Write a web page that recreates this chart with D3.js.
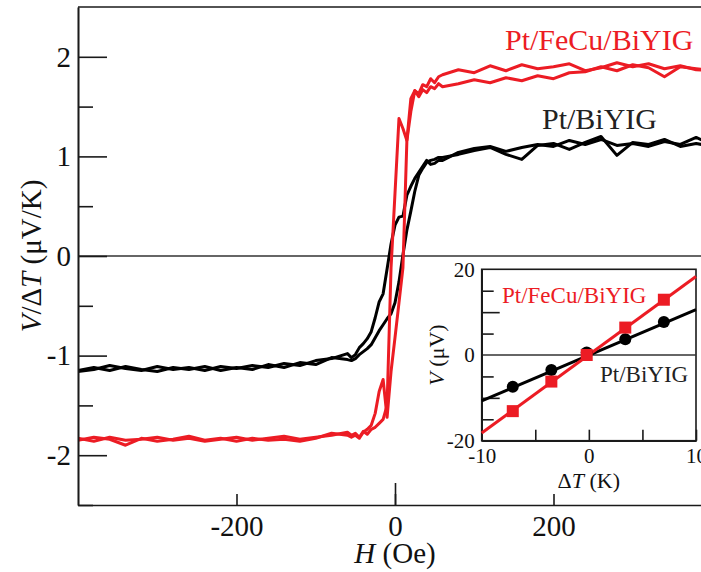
<!DOCTYPE html>
<html>
<head>
<meta charset="utf-8">
<script src="https://cdn.jsdelivr.net/npm/d3@7"></script>
<style>
  html, body { margin: 0; padding: 0; background: #fff; overflow: hidden; }
  svg { display: block; font-family: "Liberation Serif", "Times New Roman", serif; }
</style>
</head>
<body>
<svg id="chart" width="701" height="572"></svg>
<script>
// Hysteresis loops: field H (Oe) and V/ΔT (µV/K), sweep-down and sweep-up branches
const fieldOe = [
  -400, -380, -360, -340, -320, -300, -280, -260, -240, -220, -200, -180, -160, -140, -120, -100, -80, -60,
  -55, -50, -45, -40, -35, -30, -25, -20, -15, -10, -5, 0, 5, 10, 15, 20, 25, 30, 35, 40, 45, 50, 55,
  60, 80, 100, 120, 140, 160, 180, 200, 220, 240, 260, 280, 300, 320, 340, 360, 380, 400
];

const ptBiyigDown = [
  -1.16, -1.14, -1.10, -1.13, -1.15, -1.11, -1.14, -1.12, -1.15, -1.11, -1.13, -1.10, -1.12, -1.08, -1.10, -1.05, -1.03, -0.98,
  -1.02, -0.99, -0.92, -0.88, -0.83, -0.76, -0.62, -0.46, -0.38, -0.13, 0.12, 0.31, 0.39, 0.40, 0.61, 0.70, 0.78, 0.84, 0.90, 0.96, 0.92, 0.93, 0.96,
  0.96, 1.04, 1.08, 1.10, 1.05, 1.09, 1.12, 1.10, 1.16, 1.12, 1.17, 1.11, 1.13, 1.10, 1.15, 1.12, 1.19, 1.12
];

const ptBiyigUp = [
  -1.15, -1.12, -1.15, -1.11, -1.14, -1.16, -1.12, -1.14, -1.11, -1.15, -1.12, -1.14, -1.09, -1.12, -1.07, -1.09, -1.02, -1.04,
  -1.05, -1.03, -0.99, -0.96, -0.93, -0.89, -0.82, -0.75, -0.69, -0.63, -0.58, -0.47, -0.26, 0.01, 0.26, 0.45, 0.65, 0.81, 0.88, 0.94, 0.96, 0.97, 0.99,
  0.99, 1.02, 1.06, 1.09, 1.02, 0.97, 1.11, 1.13, 1.07, 1.14, 1.20, 1.01, 1.14, 1.12, 1.17, 1.10, 1.13, 1.10
];

const ptFecuDown = [
  -1.83, -1.86, -1.82, -1.85, -1.84, -1.82, -1.85, -1.83, -1.86, -1.84, -1.82, -1.85, -1.83, -1.81, -1.84, -1.82, -1.80, -1.77,
  -1.80, -1.78, -1.82, -1.76, -1.79, -1.74, -1.72, -1.68, -1.64, -1.50, -0.12, 0.63, 1.38, 1.28, 1.16, 1.58, 1.66, 1.63, 1.72, 1.70, 1.78, 1.74, 1.80,
  1.82, 1.87, 1.84, 1.91, 1.86, 1.92, 1.88, 1.90, 1.93, 1.86, 1.89, 1.94, 1.90, 1.93, 1.88, 1.91, 1.87, 1.86
];

const ptFecuUp = [
  -1.85, -1.82, -1.84, -1.90, -1.83, -1.86, -1.84, -1.81, -1.85, -1.83, -1.86, -1.83, -1.85, -1.84, -1.86, -1.83, -1.78, -1.80,
  -1.82, -1.80, -1.83, -1.77, -1.74, -1.70, -1.58, -1.36, -1.24, -1.62, -1.16, -0.82, -0.47, -0.12, 1.16, 1.45, 1.66, 1.60, 1.67, 1.64, 1.70, 1.68, 1.73,
  1.70, 1.73, 1.77, 1.74, 1.79, 1.76, 1.81, 1.78, 1.84, 1.85, 1.90, 1.86, 1.92, 1.89, 1.80, 1.90, 1.88, 1.86
];

// Inset: thermal voltage V (µV) against temperature difference ΔT (K)
const deltaT = [-7.1, -3.5, -0.2, 3.4, 7.0];
const vPtBiyig = [-7.4, -3.5, 0.6, 3.7, 7.7];
const vPtFecu = [-13.1, -6.2, 0.0, 6.4, 12.9];
const fitDeltaT = [-10, 10];
const fitPtBiyig = [-10.7, 10.6];
const fitPtFecu = [-18.2, 18.3];

// Tick values
const mainYMajor = [-2, -1, 0, 1, 2];
const mainYMinor = [-2.5, -1.5, -0.5, 0.5, 1.5];
const mainXMajor = [-200, 0, 200];
const insetYLabeled = [-20, 0, 20];
const insetYMajor = [-10, 10];
const insetYMinor = [-15, -5, 5, 15];
const insetXTicks = [-10, -5, 0, 5, 10];
const insetXLabeled = [-10, 0, 10];

const RED = "#ec1c24";
const INK = "#1a1a1a";

const svg = d3.select("#chart");

// ---------- main panel ----------
const x = d3.scaleLinear().domain([-400, 400]).range([78, 712]);
const y = d3.scaleLinear().domain([-2.5, 2.5]).range([505, 7]);

svg.append("defs").append("clipPath").attr("id", "plotClip")
  .append("rect").attr("x", 78).attr("y", 7).attr("width", 634).attr("height", 498);

// zero line
svg.append("line")
  .attr("x1", x(-400)).attr("x2", x(400))
  .attr("y1", y(0)).attr("y2", y(0))
  .attr("stroke", "#333").attr("stroke-width", 1.3);

const line = d3.line().x(d => x(d[0])).y(d => y(d[1]));
const curves = [
  { v: ptBiyigDown, c: "#000" },
  { v: ptBiyigUp, c: "#000" },
  { v: ptFecuDown, c: RED },
  { v: ptFecuUp, c: RED }
];
const curveG = svg.append("g").attr("clip-path", "url(#plotClip)");
curves.forEach(s => {
  curveG.append("path")
    .datum(fieldOe.map((h, i) => [h, s.v[i]]))
    .attr("d", line)
    .attr("fill", "none")
    .attr("stroke", s.c)
    .attr("stroke-width", 3)
    .attr("stroke-linejoin", "round");
});

function styleAxis(g, fontSize) {
  g.attr("font-family", null).attr("font-size", null);
  g.selectAll("path.domain").attr("stroke", INK).attr("stroke-width", 1.6);
  g.selectAll(".tick line").attr("stroke", INK).attr("stroke-width", 1.6);
  g.selectAll(".tick text")
    .attr("fill", "#111")
    .style("font-size", fontSize + "px")
    .style("font-family", '"Liberation Serif", "Times New Roman", serif');
}

// left axis, inward ticks
const yMinorG = svg.append("g").attr("transform", `translate(${x(-400)},0)`)
  .call(d3.axisLeft(y).tickValues(mainYMinor).tickSizeInner(-15).tickSizeOuter(0).tickFormat(""));
styleAxis(yMinorG, 29);
const yMajorG = svg.append("g").attr("transform", `translate(${x(-400)},0)`)
  .call(d3.axisLeft(y).tickValues(mainYMajor).tickSizeInner(-29).tickSizeOuter(0)
    .tickPadding(7).tickFormat(d => String(d)));
styleAxis(yMajorG, 29);

// bottom axis
const xAxisG = svg.append("g").attr("transform", `translate(0,${y(-2.5)})`)
  .call(d3.axisBottom(x).tickValues(mainXMajor).tickSizeInner(-11).tickSizeOuter(0)
    .tickPadding(10).tickFormat(d => String(d)));
styleAxis(xAxisG, 29);
const xZeroG = svg.append("g").attr("transform", `translate(0,${y(-2.5)})`)
  .call(d3.axisBottom(x).tickValues([0]).tickSizeInner(-22).tickSizeOuter(0).tickFormat(""));
styleAxis(xZeroG, 29);
xZeroG.select("path.domain").remove();

// top frame
svg.append("line")
  .attr("x1", x(-400)).attr("x2", x(400))
  .attr("y1", y(2.5)).attr("y2", y(2.5))
  .attr("stroke", INK).attr("stroke-width", 1.6);

// axis titles
const xTitle = svg.append("text")
  .attr("x", x(0)).attr("y", 563)
  .attr("text-anchor", "middle")
  .style("font-size", "29px").attr("fill", "#111");
xTitle.append("tspan").style("font-style", "italic").text("H");
xTitle.append("tspan").text(" (Oe)");

const yTitle = svg.append("text")
  .attr("transform", `translate(41,${y(0)}) rotate(-90)`)
  .attr("text-anchor", "middle")
  .style("font-size", "29px").attr("fill", "#111");
yTitle.append("tspan").style("font-style", "italic").text("V");
yTitle.append("tspan").text("/Δ");
yTitle.append("tspan").style("font-style", "italic").text("T");
yTitle.append("tspan").text(" (μV/K)");

// series labels
svg.append("text").attr("x", 505).attr("y", 50)
  .style("font-size", "30px").attr("fill", RED).text("Pt/FeCu/BiYIG");
svg.append("text").attr("x", 542).attr("y", 129)
  .style("font-size", "30px").attr("fill", "#222").text("Pt/BiYIG");

// ---------- inset ----------
const ix = d3.scaleLinear().domain([-10, 10]).range([481.7, 696]);
const iy = d3.scaleLinear().domain([-20, 20]).range([440.7, 269.3]);

svg.append("rect")
  .attr("x", ix(-10)).attr("y", iy(20))
  .attr("width", ix(10) - ix(-10)).attr("height", iy(-20) - iy(20))
  .attr("fill", "#fff").attr("stroke", INK).attr("stroke-width", 1.6);

svg.append("line")
  .attr("x1", ix(-10)).attr("x2", ix(10))
  .attr("y1", iy(0)).attr("y2", iy(0))
  .attr("stroke", "#333").attr("stroke-width", 1.3);

const iyLab = svg.append("g").attr("transform", `translate(${ix(-10)},0)`)
  .call(d3.axisLeft(iy).tickValues(insetYLabeled).tickSizeInner(0).tickSizeOuter(0)
    .tickPadding(7).tickFormat(d => String(d)));
styleAxis(iyLab, 21);
const iyMaj = svg.append("g").attr("transform", `translate(${ix(-10)},0)`)
  .call(d3.axisLeft(iy).tickValues(insetYMajor).tickSizeInner(-18).tickSizeOuter(0).tickFormat(""));
styleAxis(iyMaj, 21);
const iyMin = svg.append("g").attr("transform", `translate(${ix(-10)},0)`)
  .call(d3.axisLeft(iy).tickValues(insetYMinor).tickSizeInner(-12).tickSizeOuter(0).tickFormat(""));
styleAxis(iyMin, 21);

const ixTicks = svg.append("g").attr("transform", `translate(0,${iy(-20)})`)
  .call(d3.axisBottom(ix).tickValues(insetXTicks).tickSizeInner(-11).tickSizeOuter(0)
    .tickPadding(7).tickFormat(d => insetXLabeled.includes(d) ? String(d) : ""));
styleAxis(ixTicks, 21);

const ixTitle = svg.append("text")
  .attr("x", ix(0)).attr("y", 488)
  .attr("text-anchor", "middle")
  .style("font-size", "22px").attr("fill", "#111");
ixTitle.append("tspan").text("Δ");
ixTitle.append("tspan").style("font-style", "italic").text("T");
ixTitle.append("tspan").text(" (K)");

const iyTitle = svg.append("text")
  .attr("transform", `translate(444,${iy(0)}) rotate(-90)`)
  .attr("text-anchor", "middle")
  .style("font-size", "22px").attr("fill", "#111");
iyTitle.append("tspan").style("font-style", "italic").text("V");
iyTitle.append("tspan").text(" (μV)");

// fit lines
const iline = d3.line().x(d => ix(d[0])).y(d => iy(d[1]));
svg.append("path")
  .datum(fitDeltaT.map((t, i) => [t, fitPtBiyig[i]]))
  .attr("d", iline).attr("fill", "none").attr("stroke", "#000").attr("stroke-width", 3);
svg.append("path")
  .datum(fitDeltaT.map((t, i) => [t, fitPtFecu[i]]))
  .attr("d", iline).attr("fill", "none").attr("stroke", RED).attr("stroke-width", 3);

// markers
svg.append("g").selectAll("circle")
  .data(deltaT.map((t, i) => [t, vPtBiyig[i]]))
  .join("circle")
  .attr("cx", d => ix(d[0])).attr("cy", d => iy(d[1]))
  .attr("r", 6).attr("fill", "#000");
const sq = 12;
svg.append("g").selectAll("rect")
  .data(deltaT.map((t, i) => [t, vPtFecu[i]]))
  .join("rect")
  .attr("x", d => ix(d[0]) - sq / 2).attr("y", d => iy(d[1]) - sq / 2)
  .attr("width", sq).attr("height", sq).attr("fill", RED);

// inset labels
svg.append("text").attr("x", 502).attr("y", 303)
  .style("font-size", "23px").attr("fill", RED).text("Pt/FeCu/BiYIG");
svg.append("text").attr("x", 600).attr("y", 382)
  .style("font-size", "23px").attr("fill", "#222").text("Pt/BiYIG");
</script>
</body>
</html>
